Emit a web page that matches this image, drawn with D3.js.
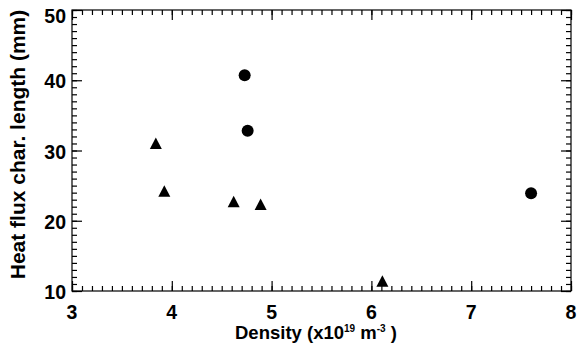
<!DOCTYPE html>
<html>
<head>
<meta charset="utf-8">
<script src="https://cdn.jsdelivr.net/npm/d3@7/dist/d3.min.js"></script>
<style>
  body { margin: 0; background: #fff; }
  text { font-family: "Liberation Sans", Arial, sans-serif; font-weight: bold; fill: #000; }
</style>
</head>
<body>
<svg width="577" height="349"></svg>
<script>
var svg = d3.select('svg');

// data
var circleDensity = [4.73, 4.76, 7.60];
var circleLength = [40.7, 32.8, 23.9];
var triDensity = [3.84, 3.925, 4.62, 4.89, 6.11];
var triLength = [31.0, 24.2, 22.7, 22.3, 11.4];
var xTicks = [3, 4, 5, 6, 7, 8];
var yTicks = [10, 20, 30, 40, 50];

var plot = {l: 72, r: 571, t: 10, b: 291};

var xScale = d3.scaleLinear().domain([3, 8]).range([plot.l, plot.r]);
var yScale = d3.scaleLinear().domain([10, 50]).range([plot.b, plot.t]);

var xMinor = d3.range(30, 81).map(function(d) { return d / 10; });
var yMinor = d3.range(10, 51);

// frame
svg.append('rect')
    .attr('x', plot.l).attr('y', plot.t)
    .attr('width', plot.r - plot.l).attr('height', plot.b - plot.t)
    .style('fill', 'none').style('stroke', '#000').style('stroke-width', 1.2);

// inward ticks on all four sides
function drawAxis(axis, tf, ticks, len) {
    svg.append('g')
        .attr('transform', tf)
        .call(axis.tickValues(ticks).tickSize(len).tickFormat(''))
        .call(function(g) { g.select('.domain').remove(); })
        .selectAll('line').style('stroke', '#000').style('stroke-width', 1.2);
}
drawAxis(d3.axisTop(xScale), 'translate(0,' + plot.b + ')', xMinor, 5);
drawAxis(d3.axisTop(xScale), 'translate(0,' + plot.b + ')', xTicks, 10);
drawAxis(d3.axisBottom(xScale), 'translate(0,' + plot.t + ')', xMinor, 5);
drawAxis(d3.axisBottom(xScale), 'translate(0,' + plot.t + ')', xTicks, 10);
drawAxis(d3.axisRight(yScale), 'translate(' + plot.l + ',0)', yMinor, 5);
drawAxis(d3.axisRight(yScale), 'translate(' + plot.l + ',0)', yTicks, 10);
drawAxis(d3.axisLeft(yScale), 'translate(' + plot.r + ',0)', yMinor, 5);
drawAxis(d3.axisLeft(yScale), 'translate(' + plot.r + ',0)', yTicks, 10);

// tick labels
svg.selectAll('.x-label')
    .data(xTicks)
    .enter()
    .append('text')
    .attr('class', 'x-label')
    .attr('x', function(d) { return xScale(d); })
    .attr('y', 319)
    .attr('text-anchor', 'middle')
    .style('font-size', '19.5px')
    .text(function(d) { return d; });

svg.selectAll('.y-label')
    .data(yTicks)
    .enter()
    .append('text')
    .attr('class', 'y-label')
    .attr('x', plot.l - 6)
    .attr('y', function(d) { return d === 50 ? 23 : yScale(d) + 8; })
    .attr('text-anchor', 'end')
    .style('font-size', '19.5px')
    .text(function(d) { return d; });

// axis titles
var xt = svg.append('text')
    .attr('x', 235)
    .attr('y', 339)
    .style('font-size', '18.5px');
xt.append('tspan').text('Density (x10');
xt.append('tspan').attr('dy', -7).style('font-size', '10px').text('19');
xt.append('tspan').attr('dy', 7).text(' m');
xt.append('tspan').attr('dy', -7).style('font-size', '10px').text('-3');
xt.append('tspan').attr('dy', 7).text(' )');

svg.append('text')
    .attr('transform', 'translate(25,' + ((plot.t + plot.b) / 2 - 6) + ') rotate(-90)')
    .attr('text-anchor', 'middle')
    .style('font-size', '21px')
    .text('Heat flux char. length (mm)');

// markers
svg.selectAll('.dot')
    .data(d3.zip(circleDensity, circleLength))
    .enter()
    .append('circle')
    .attr('class', 'dot')
    .attr('cx', function(d) { return xScale(d[0]); })
    .attr('cy', function(d) { return yScale(d[1]); })
    .attr('r', 6)
    .style('fill', '#000');

svg.selectAll('.tri')
    .data(d3.zip(triDensity, triLength))
    .enter()
    .append('path')
    .attr('class', 'tri')
    .attr('d', 'M-6,5.5L6,5.5L0,-6Z')
    .attr('transform', function(d) {
        return 'translate(' + [xScale(d[0]), yScale(d[1])] + ')';
    })
    .style('fill', '#000');
</script>
</body>
</html>
